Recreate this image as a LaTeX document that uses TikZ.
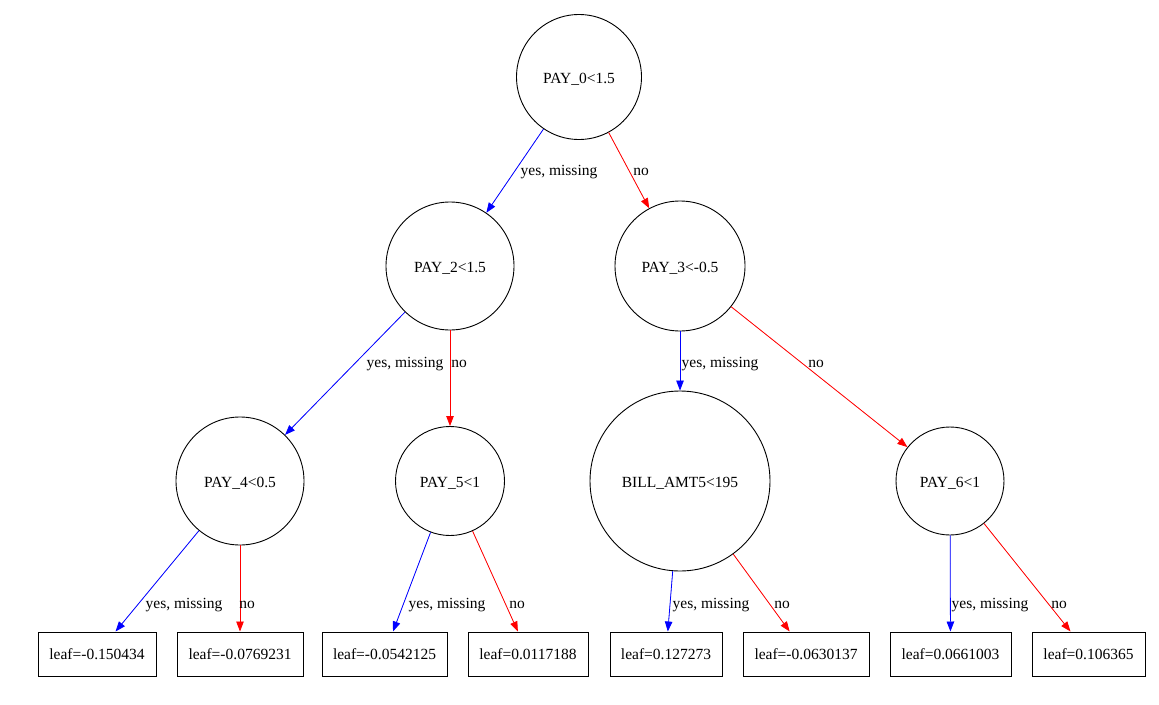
\documentclass[tikz,border=0pt]{standalone}
\usepackage{fontspec}
\setmainfont{Liberation Serif}
\usetikzlibrary{arrows.meta}
\newcommand{\lowtext}[1]{\raisebox{-2pt}[\height][\depth]{#1}}
\tikzset{
  split/.style={circle,draw=black,line width=0.9pt,inner sep=0pt,font=\fontsize{15.5}{18}\selectfont},
  leafbox/.style={rectangle,draw=black,line width=1pt,minimum height=44pt,inner sep=0pt,font=\fontsize{15.5}{18}\selectfont},
  yesedge/.style={draw=blue,line width=0.8pt,-{Triangle[length=10pt,width=7.5pt]},fill=blue},
  noedge/.style={draw=red,line width=0.8pt,-{Triangle[length=10pt,width=7.5pt]},fill=red},
  elabel/.style={inner sep=0pt,yshift=-2pt,font=\fontsize{15.5}{18}\selectfont}
}
\begin{document}
\begin{tikzpicture}[x=1pt,y=-1pt]
\useasboundingbox (0,0) rectangle (1159,704);
% split nodes
\node[split,minimum size=125pt] (n0) at (579,77) {\lowtext{PAY\_0<1.5}};
\node[split,minimum size=128pt] (n1) at (450,266) {\lowtext{PAY\_2<1.5}};
\node[split,minimum size=130pt] (n2) at (680,266) {\lowtext{PAY\_3<-0.5}};
\node[split,minimum size=128pt] (n3) at (240,481) {\lowtext{PAY\_4<0.5}};
\node[split,minimum size=109pt] (n4) at (450,481) {\lowtext{PAY\_5<1}};
\node[split,minimum size=180pt] (n5) at (680,481) {\lowtext{BILL\_AMT5<195}};
\node[split,minimum size=108pt] (n6) at (950,481) {\lowtext{PAY\_6<1}};
% leaves
\node[leafbox,minimum width=118pt] (l1) at (97,654) {leaf=-0.150434};
\node[leafbox,minimum width=126pt] (l2) at (240,654) {leaf=-0.0769231};
\node[leafbox,minimum width=125pt] (l3) at (384.5,654) {leaf=-0.0542125};
\node[leafbox,minimum width=120pt] (l4) at (528,654) {leaf=0.0117188};
\node[leafbox,minimum width=112pt] (l5) at (666,654) {leaf=0.127273};
\node[leafbox,minimum width=126pt] (l6) at (806,654) {leaf=-0.0630137};
\node[leafbox,minimum width=121pt] (l7) at (950.5,654) {leaf=0.0661003};
\node[leafbox,minimum width=113pt] (l8) at (1088.5,654) {leaf=0.106365};
% edges
\draw[yesedge] (n0) -- (n1);
\draw[noedge] (n0) -- (n2);
\draw[yesedge] (n1) -- (n3);
\draw[noedge] (n1) -- (n4);
\draw[yesedge] (n2) -- (n5);
\draw[noedge] (n2) -- (n6);
\draw[yesedge] (n3) -- (l1);
\draw[noedge] (n3) -- (l2);
\draw[yesedge] (n4) -- (l3);
\draw[noedge] (n4) -- (l4);
\draw[yesedge] (n5) -- (l5);
\draw[noedge] (n5) -- (l6);
\draw[yesedge] (n6) -- (l7);
\draw[noedge] (n6) -- (l8);
% edge labels
\node[elabel] (t01) at (559,170) {yes, missing};
\node[elabel] (t02) at (641,170) {no};
\node[elabel] (t13) at (405,362) {yes, missing};
\node[elabel] (t14) at (459,362) {no};
\node[elabel] (t25) at (720,362) {yes, missing};
\node[elabel] (t26) at (816,362) {no};
\node[elabel] (t31) at (184,603) {yes, missing};
\node[elabel] (t32) at (247,603) {no};
\node[elabel] (t43) at (447,603) {yes, missing};
\node[elabel] (t44) at (517,603) {no};
\node[elabel] (t55) at (711,603) {yes, missing};
\node[elabel] (t56) at (782,603) {no};
\node[elabel] (t67) at (990,603) {yes, missing};
\node[elabel] (t68) at (1059,603) {no};
\end{tikzpicture}
\end{document}
